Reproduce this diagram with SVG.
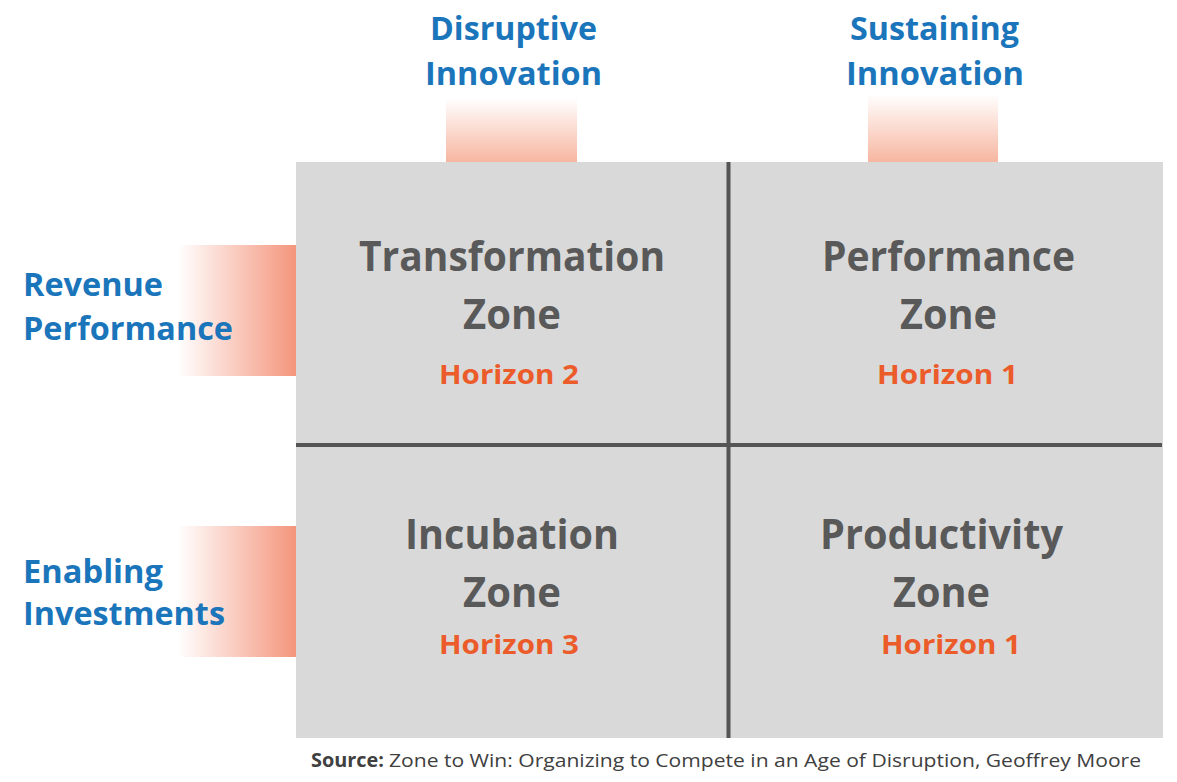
<svg xmlns="http://www.w3.org/2000/svg" width="1177" height="782" viewBox="0 0 1177 782">
<defs>
<linearGradient id="gTop" x1="0" y1="0" x2="0" y2="1">
<stop offset="0" stop-color="#ffffff"/>
<stop offset="1" stop-color="#f7b6a0"/>
</linearGradient>
<linearGradient id="gLeft" x1="0" y1="0" x2="1" y2="0">
<stop offset="0" stop-color="#ffffff"/>
<stop offset="1" stop-color="#f4957c"/>
</linearGradient>
</defs>
<style>
text{font-family:"Open Sans","Noto Sans","Liberation Sans",sans-serif;font-weight:bold}
.axis{font-size:33px;fill:#1b75bb}
.zone{font-size:42px;fill:#595959;text-anchor:middle}
.hz{font-size:27px;fill:#ec5b2a;text-anchor:middle}
.src{font-size:19px;fill:#404040;font-weight:normal}
</style>
<rect width="1177" height="782" fill="#ffffff"/>
<g id="header-disruptive">
<rect x="446" y="98" width="131" height="64" fill="url(#gTop)"/>
<text class="axis" x="430" y="40" textLength="167" lengthAdjust="spacingAndGlyphs">Disruptive</text>
<text class="axis" x="425" y="85" textLength="177" lengthAdjust="spacingAndGlyphs">Innovation</text>
</g>
<g id="header-sustaining">
<rect x="868" y="94" width="130" height="68" fill="url(#gTop)"/>
<text class="axis" x="850" y="40" textLength="169" lengthAdjust="spacingAndGlyphs">Sustaining</text>
<text class="axis" x="846" y="85" textLength="178" lengthAdjust="spacingAndGlyphs">Innovation</text>
</g>
<g id="row-revenue">
<rect x="178" y="245" width="118" height="131" fill="url(#gLeft)"/>
<text class="axis" x="23" y="296" textLength="140" lengthAdjust="spacingAndGlyphs">Revenue</text>
<text class="axis" x="23" y="340" textLength="210" lengthAdjust="spacingAndGlyphs">Performance</text>
</g>
<g id="row-enabling">
<rect x="178" y="526" width="118" height="131" fill="url(#gLeft)"/>
<text class="axis" x="23" y="583" textLength="140" lengthAdjust="spacingAndGlyphs">Enabling</text>
<text class="axis" x="23" y="625" textLength="202" lengthAdjust="spacingAndGlyphs">Investments</text>
</g>
<g id="matrix">
<rect x="296" y="162" width="867" height="576" fill="#d9d9d9"/>
</g>
<g id="connectors">
<line x1="728.5" y1="162" x2="728.5" y2="738" stroke="#555555" stroke-width="4"/>
<line x1="296" y1="445" x2="1162" y2="445" stroke="#555555" stroke-width="4"/>
</g>
<g id="transformation-zone">
<text class="zone" x="512" y="271" textLength="306" lengthAdjust="spacingAndGlyphs">Transformation</text>
<text class="zone" x="512" y="329" textLength="98" lengthAdjust="spacingAndGlyphs">Zone</text>
<text class="hz" x="509" y="384" textLength="140" lengthAdjust="spacingAndGlyphs">Horizon 2</text>
</g>
<g id="performance-zone">
<text class="zone" x="948.5" y="271" textLength="253" lengthAdjust="spacingAndGlyphs">Performance</text>
<text class="zone" x="948.5" y="329" textLength="97" lengthAdjust="spacingAndGlyphs">Zone</text>
<text class="hz" x="947.5" y="384" textLength="141" lengthAdjust="spacingAndGlyphs">Horizon 1</text>
</g>
<g id="incubation-zone">
<text class="zone" x="512" y="549" textLength="214" lengthAdjust="spacingAndGlyphs">Incubation</text>
<text class="zone" x="512" y="607" textLength="98" lengthAdjust="spacingAndGlyphs">Zone</text>
<text class="hz" x="509" y="654" textLength="140" lengthAdjust="spacingAndGlyphs">Horizon 3</text>
</g>
<g id="productivity-zone">
<text class="zone" x="941.5" y="549" textLength="243" lengthAdjust="spacingAndGlyphs">Productivity</text>
<text class="zone" x="941.5" y="607" textLength="97" lengthAdjust="spacingAndGlyphs">Zone</text>
<text class="hz" x="951" y="654" textLength="140" lengthAdjust="spacingAndGlyphs">Horizon 1</text>
</g>
<g id="source">
<text class="src" x="311" y="767"><tspan font-weight="bold" textLength="73" lengthAdjust="spacingAndGlyphs">Source:</tspan></text>
<text class="src" x="389" y="767" textLength="752" lengthAdjust="spacingAndGlyphs">Zone to Win: Organizing to Compete in an Age of Disruption, Geoffrey Moore</text>
</g>
</svg>
